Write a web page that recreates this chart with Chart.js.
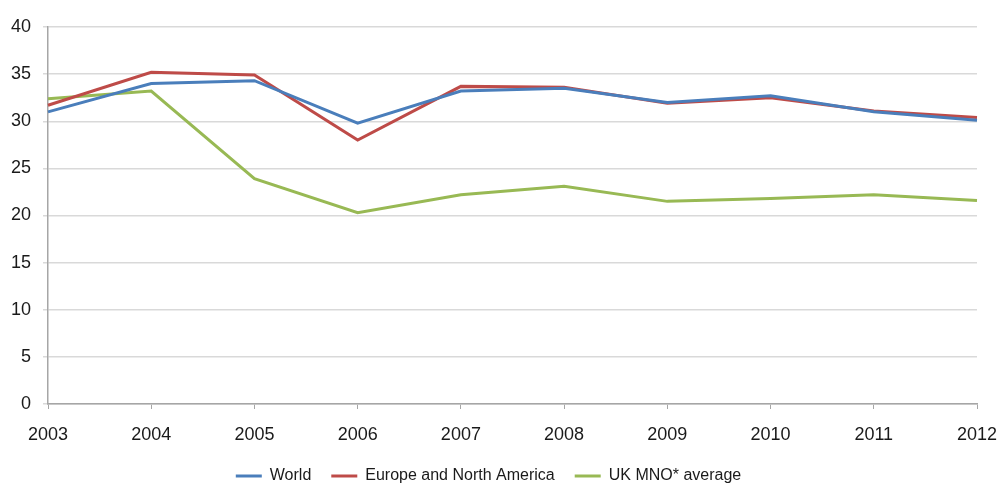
<!DOCTYPE html>
<html>
<head>
<meta charset="utf-8">
<script src="https://cdn.jsdelivr.net/npm/chart.js@4/dist/chart.umd.min.js"></script>
<style>
  html, body { margin: 0; padding: 0; background: #fff; overflow: hidden; }
  #wrap { width: 998px; height: 494px; position: relative; }
</style>
</head>
<body>
<div id="wrap"><canvas id="lineChart"></canvas></div>
<script>
/* ── Data ── */
const years = ["2003","2004","2005","2006","2007","2008","2009","2010","2011","2012"];
const world = [31.0, 34.0, 34.3, 29.8, 33.2, 33.5, 32.0, 32.7, 31.0, 30.1];
const europeNA = [31.7, 35.2, 34.9, 28.0, 33.7, 33.6, 31.9, 32.5, 31.1, 30.4];
const ukMno = [32.4, 33.2, 23.9, 20.3, 22.2, 23.1, 21.5, 21.8, 22.2, 21.6];

const FONT = "'Liberation Sans Narrow', 'Arial Narrow', 'Liberation Sans', sans-serif";
const TEXT = "#1a1a1a";

function series(label, data, color) {
  return {
    label, data,
    borderColor: color, backgroundColor: color,
    borderWidth: 3, pointRadius: 0, tension: 0, fill: false
  };
}

new Chart(document.getElementById("lineChart"), {
  type: "line",
  data: {
    labels: years,
    datasets: [
      series("World", world, "#4a7ebb"),
      series("Europe and North America", europeNA, "#be4b48"),
      series("UK MNO* average", ukMno, "#98b954")
    ]
  },
  options: {
    responsive: true,
    maintainAspectRatio: false,
    animation: false,
    layout: { padding: { top: 27, right: 21, left: 0, bottom: 0 } },
    plugins: {
      tooltip: { enabled: false },
      legend: {
        position: "bottom",
        labels: {
          usePointStyle: true, pointStyle: "line",
          boxWidth: 26, boxHeight: 3, pointStyleWidth: 26,
          padding: 20, color: TEXT,
          font: { family: FONT, size: 16 }
        }
      }
    },
    scales: {
      x: {
        offset: false,
        afterFit: s => { s.height = 44; s.paddingLeft = 0; s.paddingRight = 0; },
        border: { color: "#a6a6a6", width: 1.5 },
        grid: { drawOnChartArea: false, tickLength: 5, color: "#a6a6a6" },
        ticks: { color: TEXT, padding: 15, maxRotation: 0, font: { family: FONT, size: 18 } }
      },
      y: {
        min: 0, max: 40,
        afterFit: s => { s.width = 48; },
        border: { color: "#a6a6a6", width: 1.5 },
        grid: { color: "#d9d9d9", lineWidth: 1.5, tickLength: 5 },
        ticks: { stepSize: 5, color: TEXT, padding: 12, font: { family: FONT, size: 18 } }
      }
    }
  }
});
</script>
</body>
</html>
